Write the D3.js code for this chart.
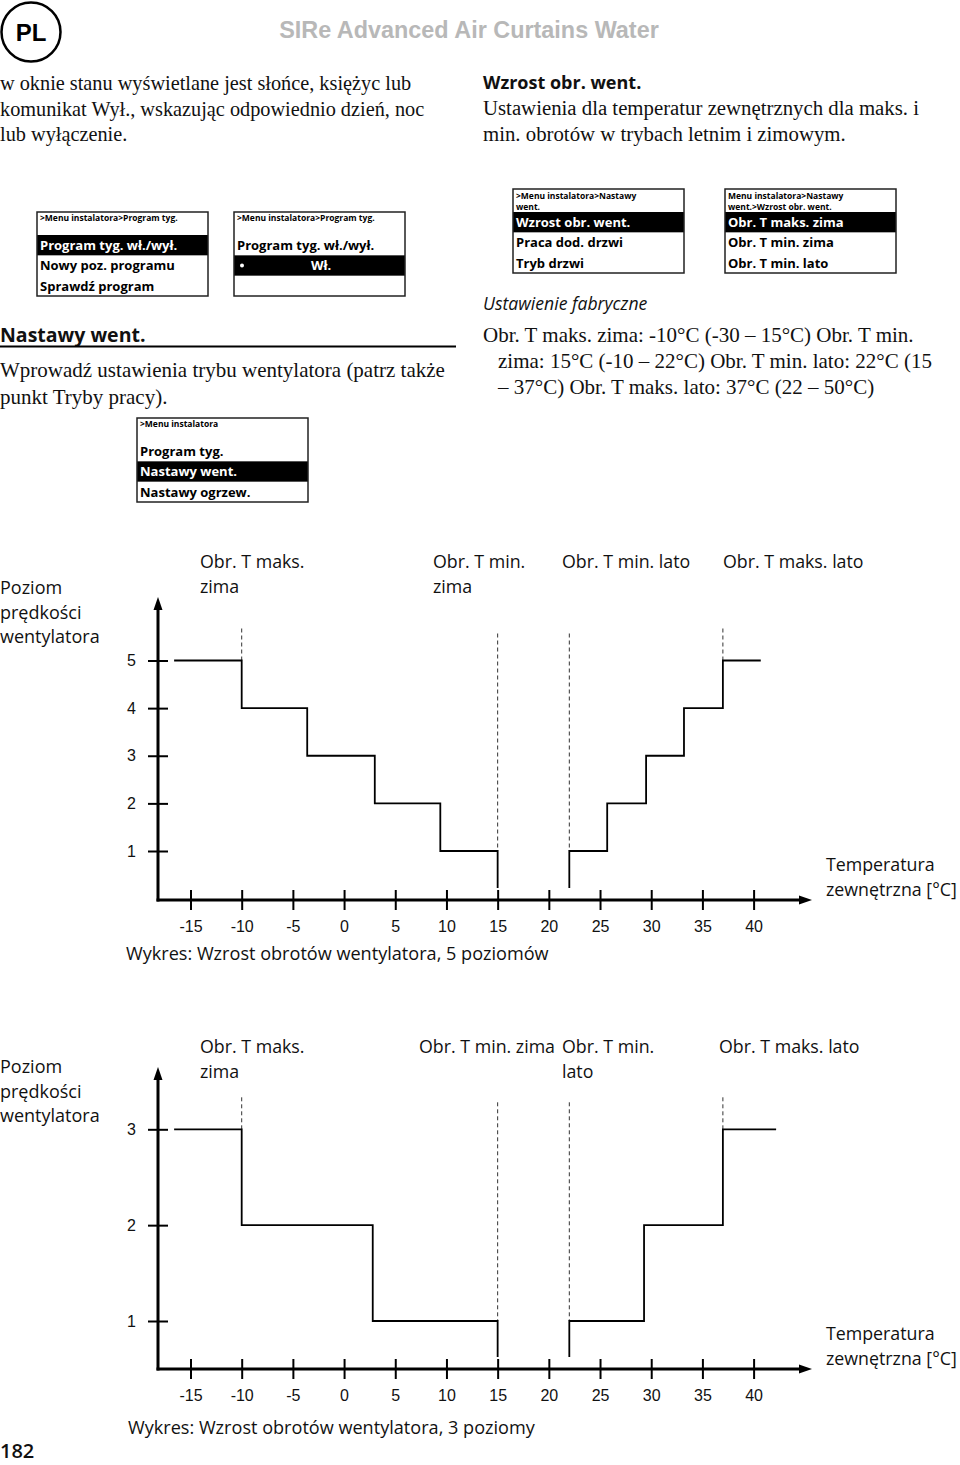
<!DOCTYPE html>
<html><head><meta charset="utf-8">
<script src="https://cdn.jsdelivr.net/npm/d3@7"></script>
<style>body{margin:0;background:#fff} svg{display:block}</style>
</head><body>
<script>
// ---------------- DATA ----------------
const tempTicks = [-15,-10,-5,0,5,10,15,20,25,30,35,40];
const levels5 = [1,2,3,4,5];
const levels3 = [1,2,3];
// step boundaries (°C) and fan levels
const winter5Bounds = [-16.6,-10,-3.6,3.0,9.4,15];
const winter5Levels = [5,4,3,2,1];
const summer5Bounds = [22,25.7,29.5,33.2,37,40.7];
const summer5Levels = [1,2,3,4,5];
const winter3Bounds = [-16.6,-10,2.8,15];
const winter3Levels = [3,2,1];
const summer3Bounds = [22,29.3,37,42.2];
const summer3Levels = [1,2,3];
const markerTemps = [-10,15,22,37];
const labels5 = [["Obr. T maks.","zima"],["Obr. T min.","zima"],["Obr. T min. lato"],["Obr. T maks. lato"]];
const labels3 = [["Obr. T maks.","zima"],["Obr. T min. zima"],["Obr. T min.","lato"],["Obr. T maks. lato"]];
const yTitle = ["Poziom","prędkości","wentylatora"];
const xTitle = ["Temperatura","zewnętrzna [°C]"];
const caption5 = "Wykres: Wzrost obrotów wentylatora, 5 poziomów";
const caption3 = "Wykres: Wzrost obrotów wentylatora, 3 poziomy";

const introLeft = ["w oknie stanu wyświetlane jest słońce, księżyc lub","komunikat Wył., wskazując odpowiednio dzień, noc","lub wyłączenie."];
const introRightTitle = "Wzrost obr. went.";
const introRight = ["Ustawienia dla temperatur zewnętrznych dla maks. i","min. obrotów w trybach letnim i zimowym."];
const sectionTitle = "Nastawy went.";
const sectionText = ["Wprowadź ustawienia trybu wentylatora (patrz także","punkt Tryby pracy)."];
const factoryTitle = "Ustawienie fabryczne";
const factoryText = ["Obr. T maks. zima: -10°C (-30 – 15°C) Obr. T min.","zima: 15°C (-10 – 22°C) Obr. T min. lato: 22°C (15","– 37°C) Obr. T maks. lato: 37°C (22 – 50°C)"];
const menuA = {head:[">Menu instalatora>Program tyg."], rows:["Program tyg. wł./wył.","Nowy poz. programu","Sprawdź program"], sel:0};
const menuB = {head:[">Menu instalatora>Program tyg."], rows:["Program tyg. wł./wył.","Wł.",""], sel:1};
const menuC = {head:[">Menu instalatora"], rows:["Program tyg.","Nastawy went.","Nastawy ogrzew."], sel:1};
const menuD = {head:[">Menu instalatora>Nastawy","went."], rows:["Wzrost obr. went.","Praca dod. drzwi","Tryb drzwi"], sel:0};
const menuE = {head:["Menu instalatora>Nastawy","went.>Wzrost obr. went."], rows:["Obr. T maks. zima","Obr. T min. zima","Obr. T min. lato"], sel:0};
const pageNumber = "182";
const headerTitle = "SIRe Advanced Air Curtains Water";

// ---------------- DRAW ----------------
const W=960, H=1465;
const SANS = "'Open Sans', 'Noto Sans', sans-serif";
const SERIF = "'Liberation Serif', serif";
const ARIAL = "'Liberation Sans', Arial, sans-serif";
const svg = d3.select("body").append("svg").attr("width",W).attr("height",H);

// header
svg.append("circle").attr("cx",31).attr("cy",32).attr("r",29.5).attr("fill","none").attr("stroke","#000").attr("stroke-width",2.5);
svg.append("text").attr("x",31).attr("y",41).attr("text-anchor","middle").attr("font-family",ARIAL).attr("font-weight","bold").attr("font-size",24).text("PL");
svg.append("text").attr("x",469).attr("y",38).attr("text-anchor","middle").attr("font-family",ARIAL).attr("font-weight","bold").attr("font-size",23.4).attr("fill","#b8b8b8").text(headerTitle);

function lines(arr, x, y0, dy, font, size, opts={}) {
  arr.forEach((t,i)=>{
    const tx = svg.append("text").attr("x", (opts.xs? opts.xs[i] : x)).attr("y", y0+i*dy)
      .attr("font-family",font).attr("font-size",size).attr("fill","#111").text(t);
    if (opts.weight) tx.attr("font-weight",opts.weight);
    if (opts.style) tx.attr("font-style",opts.style);
  });
}
lines(introLeft, 0, 90, 25.5, SERIF, 20.3);
lines([introRightTitle], 483, 89, 0, SANS, 18, {weight:"bold"});
lines(introRight, 483, 115, 25.5, SERIF, 20.8);

// menus
function menu(m, x, y) {
  const w=171, h=84, top=23, rh=(h-top)/3;
  const g = svg.append("g").attr("transform",`translate(${x},${y})`);
  m.rows.forEach((r,i)=>{
    if (i===m.sel) g.append("rect").attr("x",0).attr("y",top+i*rh).attr("width",w).attr("height",rh).attr("fill","#000");
  });
  g.append("rect").attr("width",w).attr("height",h).attr("fill","none").attr("stroke","#222").attr("stroke-width",1.5);
  m.head.forEach((t,i)=>{
    g.append("text").attr("x",3).attr("y", m.head.length===1 ? 9 : 10+i*11).attr("font-family",SANS).attr("font-weight","bold")
      .attr("font-size",8.5).attr("fill","#000").text(t);
  });
  m.rows.forEach((r,i)=>{
    const isSel = i===m.sel;
    const special = (m===menuB && i===1);
    if (special) {
      g.append("circle").attr("cx",8).attr("cy",top+i*rh+rh/2).attr("r",2).attr("fill","#fff");
      g.append("text").attr("x",87).attr("y",top+i*rh+15).attr("text-anchor","middle").attr("font-family",SANS).attr("font-weight","bold")
        .attr("font-size",13).attr("fill","#fff").text(r);
    } else {
      g.append("text").attr("x",3).attr("y",top+i*rh+15).attr("font-family",SANS).attr("font-weight","bold")
        .attr("font-size",13).attr("fill",isSel?"#fff":"#000").text(r);
    }
  });
}
menu(menuA, 37, 212);
menu(menuB, 234, 212);
menu(menuD, 513, 189);
menu(menuE, 725, 189);
menu(menuC, 137, 418);

lines([sectionTitle], 0, 342, 0, SANS, 19.5, {weight:"bold"});
svg.append("line").attr("x1",0).attr("x2",456).attr("y1",346.5).attr("y2",346.5).attr("stroke","#000").attr("stroke-width",2);
lines(sectionText, 0, 377, 27, SERIF, 21);
lines([factoryTitle], 483, 310, 0, SANS, 17.6, {style:"italic"});
lines(factoryText, 483, 342, 26, SERIF, 21, {xs:[483,498,498]});

// charts
const x = d3.scaleLinear().domain([-15,40]).range([190.5,753.6]);
const yAxisX = 158, xAxisEnd = 812;
const LBL = 17.8;

function chart(cfg) {
  const y = d3.scaleLinear().domain([1, cfg.maxLevel]).range(cfg.yRange);
  const g = svg.append("g");
  const ax = cfg.axisY;
  // x axis ticks
  const xa = g.append("g").attr("transform",`translate(0,${ax})`)
    .call(d3.axisBottom(x).tickValues(tempTicks).tickSize(10).tickFormat(d=>d));
  xa.select(".domain").remove();
  xa.selectAll(".tick line").attr("y1",-10).attr("y2",10).attr("stroke","#000").attr("stroke-width",2);
  xa.selectAll(".tick text").attr("y",21).attr("font-family",ARIAL).attr("font-size",16).attr("fill","#111");
  // y axis ticks
  const ya = g.append("g").attr("transform",`translate(${yAxisX},0)`)
    .call(d3.axisLeft(y).tickValues(cfg.levels).tickSize(10).tickFormat(d=>d));
  ya.select(".domain").remove();
  ya.selectAll(".tick line").attr("x1",-10).attr("x2",10).attr("stroke","#000").attr("stroke-width",2);
  ya.selectAll(".tick text").attr("x",-22).attr("font-family",ARIAL).attr("font-size",16).attr("fill","#111");
  // axis lines
  g.append("line").attr("x1",yAxisX).attr("x2",yAxisX).attr("y1",ax+1.5).attr("y2",cfg.arrowTop+10).attr("stroke","#000").attr("stroke-width",3);
  g.append("path").attr("d",`M${yAxisX},${cfg.arrowTop} L${yAxisX-4.5},${cfg.arrowTop+13} L${yAxisX+4.5},${cfg.arrowTop+13} Z`).attr("fill","#000");
  g.append("line").attr("x1",yAxisX-1.5).attr("x2",xAxisEnd-10).attr("y1",ax).attr("y2",ax).attr("stroke","#000").attr("stroke-width",3);
  g.append("path").attr("d",`M${xAxisEnd},${ax} L${xAxisEnd-13},${ax-4.5} L${xAxisEnd-13},${ax+4.5} Z`).attr("fill","#000");

  const base = ax - 12;
  // dashed marker lines
  const topLvl = cfg.maxLevel;
  const endLevel = {"-10":topLvl, "15":1, "22":1, "37":topLvl};
  markerTemps.forEach(t=>{
    g.append("line").attr("x1",x(t)).attr("x2",x(t)).attr("y1",y(topLvl)-(t===15||t===22?27:32)).attr("y2",y(endLevel[t]))
      .attr("stroke","#333").attr("stroke-width",1).attr("stroke-dasharray","4,3");
  });
  // winter steps
  const wb = cfg.winterBounds, wl = cfg.winterLevels;
  const wp = [[wb[0], y(wl[0])]];
  wl.forEach((L,i)=>{ wp.push([wb[i], y(L)]); wp.push([wb[i+1], y(L)]); });
  wp.push([wb[wb.length-1], base]);
  const sb = cfg.summerBounds, sl = cfg.summerLevels;
  const sp = [[sb[0], base]];
  sl.forEach((L,i)=>{ sp.push([sb[i], y(L)]); sp.push([sb[i+1], y(L)]); });
  const line = d3.line().x(d=>x(d[0])).y(d=>d[1]);
  [wp, sp].forEach(p=> g.append("path").attr("d",line(p)).attr("fill","none").attr("stroke","#000").attr("stroke-width",1.8));

  // titles
  yTitle.forEach((t,i)=> g.append("text").attr("x",0).attr("y",cfg.yTitleY+i*24.5).attr("font-family",SANS).attr("font-size",18).attr("fill","#111").text(t));
  xTitle.forEach((t,i)=> g.append("text").attr("x",826).attr("y",ax-29+i*24.5).attr("font-family",SANS).attr("font-size",LBL).attr("fill","#111").text(t));
  cfg.labels.forEach((arr,j)=> arr.forEach((t,i)=> g.append("text").attr("x",cfg.labelXs[j]).attr("y",cfg.labelY+i*24.5)
      .attr("font-family",SANS).attr("font-size",LBL).attr("fill","#111").text(t)));
  g.append("text").attr("x",cfg.captionX).attr("y",cfg.captionY).attr("font-family",SANS).attr("font-size",18.1).attr("fill","#111").text(cfg.caption);
}

chart({maxLevel:5, levels:levels5, yRange:[851,660.5], axisY:900, arrowTop:597,
  winterBounds:winter5Bounds, winterLevels:winter5Levels, summerBounds:summer5Bounds, summerLevels:summer5Levels,
  labels:labels5, labelXs:[200,433,562,723], labelY:568, yTitleY:594, caption:caption5, captionX:126, captionY:960});
chart({maxLevel:3, levels:levels3, yRange:[1321,1129.3], axisY:1369, arrowTop:1067,
  winterBounds:winter3Bounds, winterLevels:winter3Levels, summerBounds:summer3Bounds, summerLevels:summer3Levels,
  labels:labels3, labelXs:[200,419,562,719], labelY:1053, yTitleY:1073, caption:caption3, captionX:128, captionY:1434});

svg.append("text").attr("x",0).attr("y",1458).attr("font-family",SANS).attr("font-weight","600").attr("font-size",20).attr("fill","#111").text(pageNumber);
</script>
</body></html>
